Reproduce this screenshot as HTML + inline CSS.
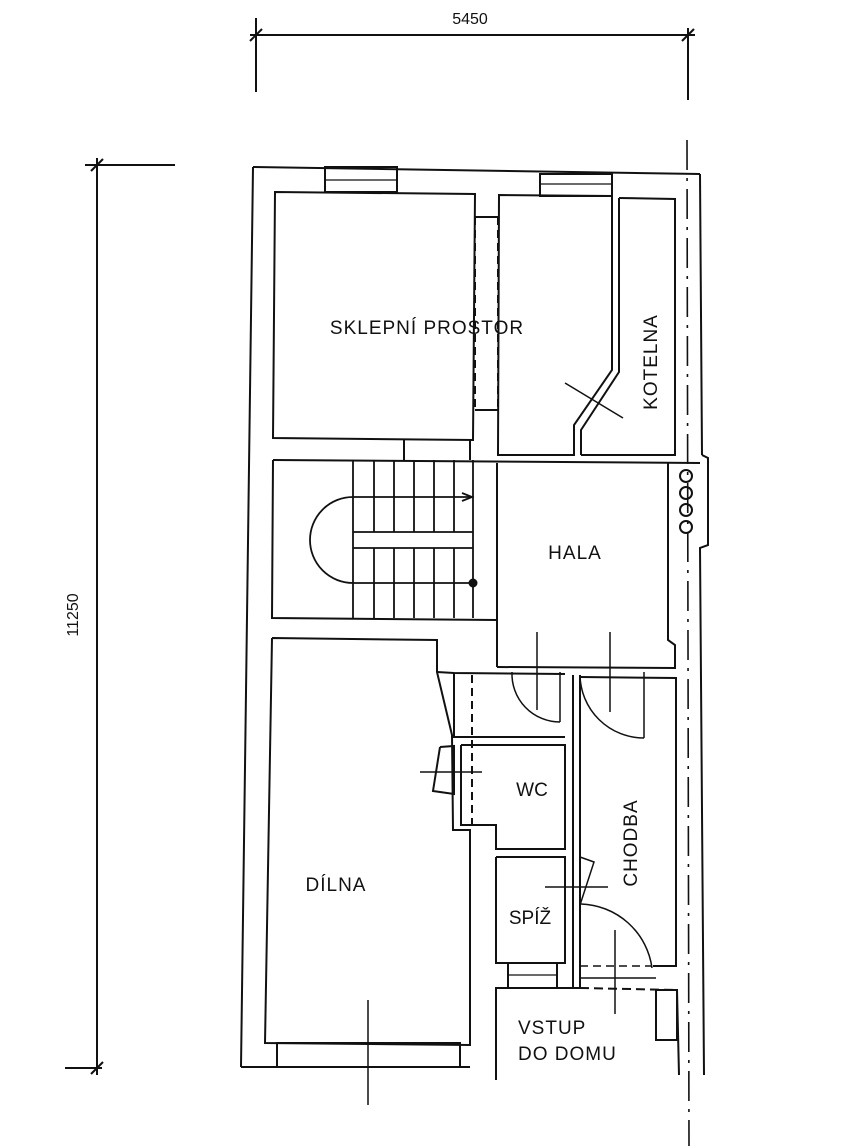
<!DOCTYPE html>
<html><head><meta charset="utf-8"><style>
html,body{margin:0;padding:0;background:#fff;}
svg{display:block}
text{font-family:"Liberation Sans",sans-serif;fill:#111;}
</style></head><body>
<svg width="844" height="1146" viewBox="0 0 844 1146" xmlns="http://www.w3.org/2000/svg">
<g stroke="#111" stroke-width="2" fill="none">
<!-- dimensions -->
<line x1="250" y1="35" x2="695" y2="35"/>
<line x1="256" y1="18" x2="256" y2="92"/>
<line x1="688" y1="28" x2="688" y2="100"/>
<line x1="250" y1="41" x2="262" y2="29"/>
<line x1="682" y1="41" x2="694" y2="29"/>
<line x1="97" y1="158" x2="97" y2="1075"/>
<line x1="85" y1="165" x2="175" y2="165"/>
<line x1="65" y1="1068" x2="102" y2="1068"/>
<line x1="91" y1="171" x2="103" y2="159"/>
<line x1="91" y1="1074" x2="103" y2="1062"/>
<!-- outer walls -->
<polyline points="253,167 700,174"/>
<line x1="253" y1="167" x2="241" y2="1067"/>
<line x1="241" y1="1067" x2="470" y2="1067"/>
<line x1="700" y1="174" x2="702" y2="455"/>
<polyline points="702,455 708,458 708,545 700,548 704,1075"/>
<line x1="687" y1="140" x2="689" y2="1146" stroke-dasharray="30,8,3,8" stroke-width="1.6"/>
<!-- sklepni -->
<polygon points="275,192 475,194 473,440 273,438"/>
<rect x="325" y="167" width="72" height="25"/>
<line x1="325" y1="180" x2="397" y2="180" stroke-width="1.2"/>
<line x1="475" y1="217" x2="475" y2="410" stroke-dasharray="8,5"/>
<line x1="498" y1="217" x2="498" y2="410" stroke-dasharray="8,5"/>
<line x1="475" y1="217" x2="498" y2="217"/>
<line x1="475" y1="410" x2="498" y2="410"/>
<!-- boiler room -->
<polyline points="612,196 499,195 498,455 575,455"/>
<polyline points="612,196 612,370 574,425 574,455"/>
<polyline points="619,198 619,372 581,430 581,455"/>
<polyline points="619,198 675,199 675,455 581,455"/>
<rect x="540" y="174" width="72" height="22"/>
<line x1="540" y1="184" x2="612" y2="184" stroke-width="1.2"/>
<line x1="565" y1="383" x2="623" y2="418" stroke-width="1.5"/>
<!-- connecting walls -->
<line x1="404" y1="440" x2="404" y2="460"/>
<line x1="470" y1="440" x2="470" y2="460"/>
<!-- stairs -->
<polyline points="273,460 700,463"/>
<polyline points="273,460 272,618 497,620"/>
<line x1="497" y1="463" x2="497" y2="667"/>
<g stroke-width="1.8">
<line x1="353" y1="460" x2="353" y2="618"/>
<line x1="374" y1="460" x2="374" y2="532"/><line x1="374" y1="548" x2="374" y2="618"/>
<line x1="394" y1="460" x2="394" y2="532"/><line x1="394" y1="548" x2="394" y2="618"/>
<line x1="414" y1="460" x2="414" y2="532"/><line x1="414" y1="548" x2="414" y2="618"/>
<line x1="434" y1="460" x2="434" y2="532"/><line x1="434" y1="548" x2="434" y2="618"/>
<line x1="454" y1="460" x2="454" y2="532"/><line x1="454" y1="548" x2="454" y2="618"/>
<line x1="473" y1="460" x2="473" y2="618"/>
<line x1="353" y1="497" x2="473" y2="497"/>
<line x1="353" y1="532" x2="473" y2="532"/>
<line x1="353" y1="548" x2="473" y2="548"/>
<line x1="353" y1="583" x2="473" y2="583"/>
<path d="M353,497 A43,43 0 0 0 353,583"/>
<polyline points="462,493 472,497 462,501"/>
</g>
<circle cx="473" cy="583" r="3.5" fill="#111"/>
<!-- hala -->
<polyline points="668,463 668,640 675,645 675,668 497,667"/>
<circle cx="686" cy="476" r="6"/><circle cx="686" cy="493" r="6"/>
<circle cx="686" cy="510" r="6"/><circle cx="686" cy="527" r="6"/>
<line x1="537" y1="632" x2="537" y2="710" stroke-width="1.5"/>
<line x1="610" y1="632" x2="610" y2="712" stroke-width="1.5"/>
<!-- dilna -->
<polyline points="272,638 437,640 437,672 452,735 453,830 470,830 470,1045 265,1043 272,638"/>
<rect x="277" y="1043" width="183" height="24"/>
<line x1="368" y1="1000" x2="368" y2="1105" stroke-width="1.5"/>
<!-- small rooms -->
<polyline points="437,672 454,673 565,674"/>
<polyline points="454,673 454,737 565,737"/>
<line x1="472" y1="675" x2="472" y2="825" stroke-dasharray="8,5"/>
<polyline points="461,745 565,745 565,849 496,849 496,825 461,825 461,745"/>
<line x1="461" y1="745" x2="461" y2="800"/>
<polyline points="440,747 454,746 454,794 433,791 440,747"/>
<line x1="420" y1="772" x2="482" y2="772" stroke-width="1.5"/>
<polyline points="496,857 565,857 565,963 496,963 496,857"/>
<rect x="508" y="963" width="49" height="25"/>
<line x1="508" y1="975" x2="557" y2="975" stroke-width="1.2"/>
<!-- doors hala -->
<path d="M512,672 A48,48 0 0 0 560,722" stroke-width="1.5"/>
<line x1="560" y1="672" x2="560" y2="722" stroke-width="1.5"/>
<path d="M580,675 A64,64 0 0 0 644,738" stroke-width="1.5"/>
<line x1="644" y1="672" x2="644" y2="738" stroke-width="1.5"/>
<!-- chodba -->
<line x1="573" y1="675" x2="573" y2="988"/>
<line x1="580" y1="675" x2="580" y2="988"/>
<polyline points="580,677 676,678 676,966 653,966"/>
<path d="M580,857 L594,862 L580,905" stroke-width="1.5"/>
<line x1="545" y1="887" x2="608" y2="887" stroke-width="1.5"/>
<path d="M581,904 A74,74 0 0 1 652,968" stroke-width="1.5"/>
<line x1="615" y1="930" x2="615" y2="1014" stroke-width="1.5"/>
<line x1="580" y1="966" x2="652" y2="966" stroke-dasharray="8,5" stroke-width="1.5"/>
<line x1="580" y1="978" x2="656" y2="978" stroke-width="1.5"/>
<!-- vstup -->
<polyline points="496,1080 496,988 580,988"/>
<line x1="580" y1="988" x2="677" y2="990" stroke-dasharray="9,5"/>
<polyline points="677,990 679,1075"/>
<rect x="656" y="990" width="21" height="50"/>
</g>
<text x="470" y="24" font-size="16" text-anchor="middle">5450</text>
<text x="0" y="0" font-size="16" text-anchor="middle" transform="translate(78,615) rotate(-90)">11250</text>
<text x="427" y="334" font-size="19" text-anchor="middle" letter-spacing="1">SKLEPNÍ PROSTOR</text>
<text x="0" y="0" font-size="19" text-anchor="middle" letter-spacing="1" transform="translate(657,362) rotate(-90)">KOTELNA</text>
<text x="575" y="559" font-size="19" text-anchor="middle" letter-spacing="1">HALA</text>
<text x="532" y="796" font-size="19" text-anchor="middle">WC</text>
<text x="0" y="0" font-size="19" text-anchor="middle" letter-spacing="1" transform="translate(637,843) rotate(-90)">CHODBA</text>
<text x="336" y="891" font-size="19" text-anchor="middle" letter-spacing="1">DÍLNA</text>
<text x="530" y="924" font-size="19" text-anchor="middle">SPÍŽ</text>
<text x="518" y="1034" font-size="19" letter-spacing="1">VSTUP</text>
<text x="518" y="1060" font-size="19" letter-spacing="1">DO DOMU</text>
</svg>
</body></html>
